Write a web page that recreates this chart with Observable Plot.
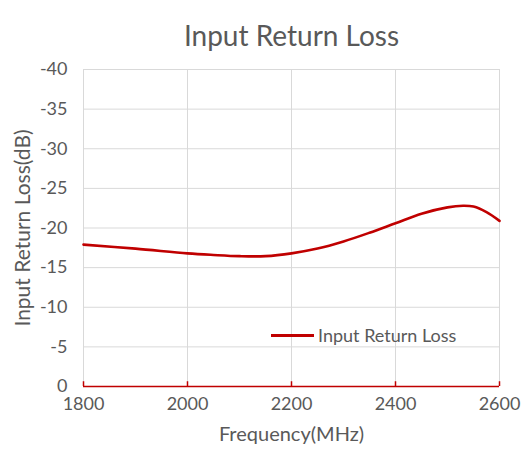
<!DOCTYPE html>
<html>
<head>
<meta charset="utf-8">
<script src="https://cdn.jsdelivr.net/npm/d3@7"></script>
<script src="https://cdn.jsdelivr.net/npm/@observablehq/plot@0.6"></script>
<style>
  html, body { margin: 0; padding: 0; background: #fff; }
  #wrap { position: relative; width: 527px; height: 455px; font-family: Lato, "Open Sans", sans-serif; }
  #legend { position: absolute; left: 271px; top: 324px; height: 22px; display: flex; align-items: center; color: #595959; font-size: 18px; line-height: 22px; }
  #legend .sw { width: 43px; height: 3px; background: #c00000; margin-right: 4px; }
</style>
</head>
<body>
<div id="wrap"><div id="legend"><span class="sw"></span><span>Input Return Loss</span></div></div>
<script>
const title = "Input Return Loss";
const xLabel = "Frequency(MHz)";
const yLabel = "Input Return Loss(dB)";
const seriesName = "Input Return Loss";
const freq = [1800, 1900, 2000, 2050, 2100, 2150, 2200, 2250, 2300, 2350, 2400, 2450, 2500, 2530, 2550, 2575, 2600];
const loss = [-17.9, -17.4, -16.8, -16.6, -16.45, -16.45, -16.8, -17.4, -18.3, -19.4, -20.6, -21.8, -22.6, -22.8, -22.7, -22.0, -20.9];
const xTicks = [1800, 2000, 2200, 2400, 2600];
const yTicks = [-40, -35, -30, -25, -20, -15, -10, -5, 0];

const data = freq.map((f, i) => ({f, v: loss[i]}));
const grey = "#595959";
const gridC = "#d9d9d9";
const red = "#c00000";

const chart = Plot.plot({
  width: 527,
  height: 455,
  marginTop: 69,
  marginBottom: 69,
  marginLeft: 83,
  marginRight: 28,
  style: {fontFamily: "Lato, 'Open Sans', sans-serif", fontSize: "18px", color: grey, background: "#fff"},
  x: {domain: [1800, 2600]},
  y: {domain: [0, -40]},
  marks: [
    Plot.gridX(xTicks, {stroke: gridC, strokeOpacity: 1, strokeWidth: 1}),
    Plot.gridY(yTicks, {stroke: gridC, strokeOpacity: 1, strokeWidth: 1}),
    Plot.axisX(xTicks, {tickSize: 0, tickPadding: 11, tickFormat: d => String(d), fill: grey, fontSize: 18, label: null}),
    Plot.axisY(yTicks, {tickSize: 0, tickPadding: 16, tickFormat: d => String(d), fill: grey, fontSize: 18, label: null}),
    Plot.ruleY([0], {stroke: red, strokeWidth: 1.5}),
    Plot.ruleX(xTicks, {y1: 0, y2: -0.6, stroke: red, strokeWidth: 1.5}),
    Plot.line(data, {x: "f", y: "v", stroke: red, strokeWidth: 2.6, curve: "catmull-rom"}),
    Plot.text([title], {frameAnchor: "top", dy: -43, fontSize: 28, fill: grey}),
    Plot.text([xLabel], {frameAnchor: "bottom", dy: 54, fontSize: 20, fill: grey}),
    Plot.text([yLabel], {frameAnchor: "left", dx: -60, rotate: -90, textAnchor: "middle", fontSize: 21, fill: grey})
  ]
});
document.getElementById("wrap").prepend(chart);
</script>
</body>
</html>
